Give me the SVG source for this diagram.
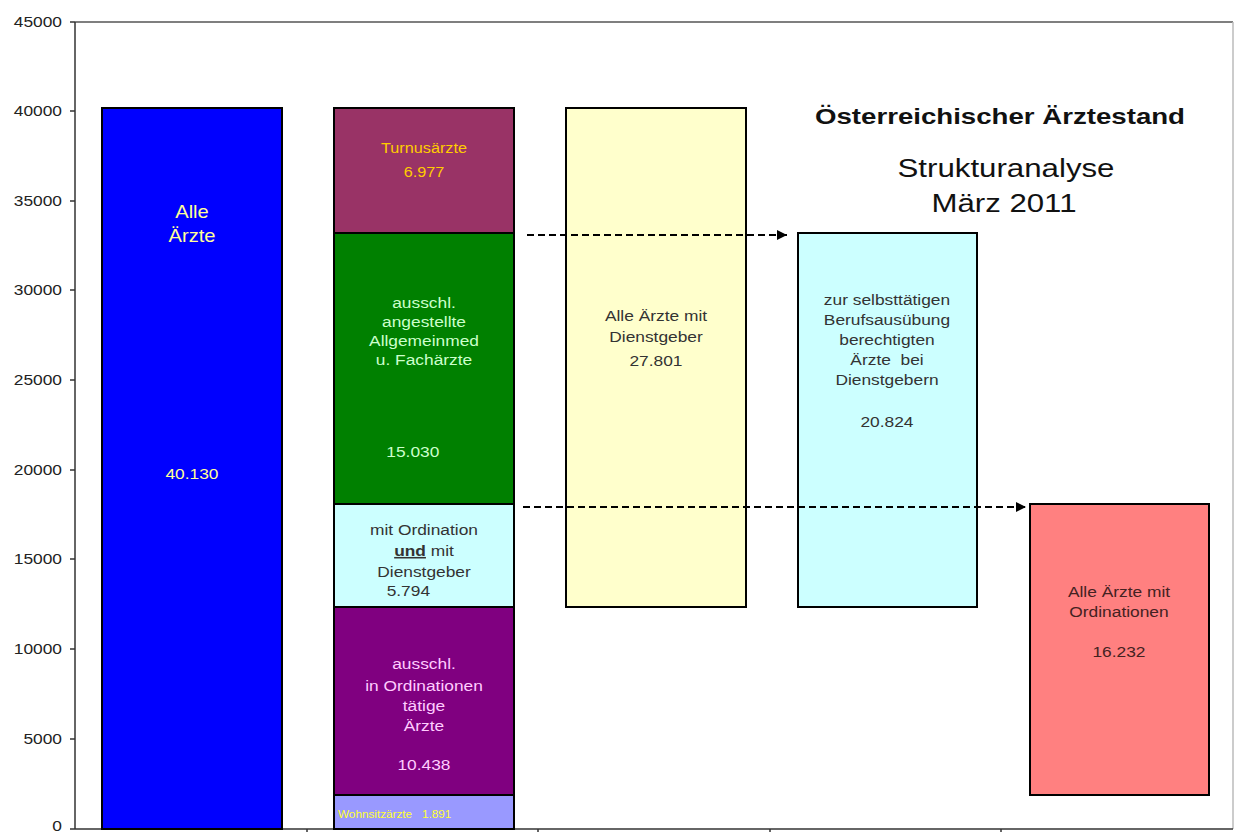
<svg xmlns="http://www.w3.org/2000/svg" width="1237" height="832" viewBox="0 0 1237 832">
<style>
text{font-family:"Liberation Sans",Arial,sans-serif;}
.bar{stroke:#000;stroke-width:2;}
.ax{font-size:15.5px;fill:#222;text-anchor:end;}
.lb{font-size:15.5px;text-anchor:middle;}
.dark{fill:#333;}
.conn{stroke:#000;stroke-width:2;stroke-dasharray:7,4;fill:none;}
</style>
<defs>
<marker id="ah" viewBox="0 0 10 10" refX="10" refY="5" markerWidth="5" markerHeight="5" orient="auto" markerUnits="strokeWidth">
<path d="M0,0 L10,5 L0,10 z" fill="#000"/>
</marker>
</defs>
<rect x="0" y="0" width="1237" height="832" fill="#fff"/>
<g id="frame">
<line x1="75" y1="22" x2="1233" y2="22" stroke="#555" stroke-width="1.5"/>
<line x1="1233" y1="22" x2="1233" y2="829" stroke="#bbb" stroke-width="1.5"/>
<line x1="75" y1="22" x2="75" y2="829" stroke="#333" stroke-width="1.5"/>
<line x1="75" y1="829" x2="1233" y2="829" stroke="#333" stroke-width="1.5"/>
<g stroke="#333" stroke-width="1.5">
<line x1="70" y1="22" x2="75" y2="22"/><line x1="70" y1="111" x2="75" y2="111"/><line x1="70" y1="201" x2="75" y2="201"/><line x1="70" y1="290" x2="75" y2="290"/><line x1="70" y1="380" x2="75" y2="380"/><line x1="70" y1="470" x2="75" y2="470"/><line x1="70" y1="559" x2="75" y2="559"/><line x1="70" y1="649" x2="75" y2="649"/><line x1="70" y1="739" x2="75" y2="739"/><line x1="70" y1="829" x2="75" y2="829"/>
<line x1="307" y1="829" x2="307" y2="832"/><line x1="538" y1="829" x2="538" y2="832"/><line x1="770" y1="829" x2="770" y2="832"/><line x1="1001" y1="829" x2="1001" y2="832"/>
</g>
<g transform="translate(62,0) scale(1.12,1)">
<text class="ax" x="0" y="27">45000</text>
<text class="ax" x="0" y="116">40000</text>
<text class="ax" x="0" y="206">35000</text>
<text class="ax" x="0" y="295">30000</text>
<text class="ax" x="0" y="385">25000</text>
<text class="ax" x="0" y="475">20000</text>
<text class="ax" x="0" y="564">15000</text>
<text class="ax" x="0" y="654">10000</text>
<text class="ax" x="0" y="744">5000</text>
<text class="ax" x="0" y="831">0</text>
</g>
</g>
<g id="alle-aerzte">
<rect class="bar" x="102" y="108" width="180" height="721" fill="#0000ff"/>
<g transform="translate(192,0) scale(1.12,1)" fill="#ffff99">
<text class="lb" x="0" y="218" style="font-size:18px">Alle</text>
<text class="lb" x="0" y="242" style="font-size:18px">Ärzte</text>
<text class="lb" x="0" y="479">40.130</text>
</g>
</g>
<g id="turnusaerzte">
<rect class="bar" x="334" y="108" width="180" height="125" fill="#993366"/>
<g transform="translate(424,0) scale(1.12,1)" fill="#ffcc00">
<text class="lb" x="0" y="153" style="font-size:14.5px">Turnusärzte</text>
<text class="lb" x="0" y="177" style="font-size:14.5px">6.977</text>
</g>
</g>
<g id="angestellte">
<rect class="bar" x="334" y="233" width="180" height="271" fill="#008000"/>
<g transform="translate(424,0) scale(1.12,1)" fill="#ccffcc">
<text class="lb" x="0" y="308">ausschl.</text>
<text class="lb" x="0" y="327">angestellte</text>
<text class="lb" x="0" y="346">Allgemeinmed</text>
<text class="lb" x="0" y="365">u. Fachärzte</text>
<text class="lb" x="-10" y="457">15.030</text>
</g>
</g>
<g id="ordination-und-dienstgeber">
<rect class="bar" x="334" y="504" width="180" height="103" fill="#ccffff"/>
<g transform="translate(424,0) scale(1.12,1)" class="dark">
<text class="lb" x="0" y="535">mit Ordination</text>
<text class="lb" x="0" y="556"><tspan font-weight="bold" text-decoration="underline">und</tspan> mit</text>
<text class="lb" x="0" y="577">Dienstgeber</text>
<text class="lb" x="-14" y="596">5.794</text>
</g>
</g>
<g id="ordinationen">
<rect class="bar" x="334" y="607" width="180" height="188" fill="#800080"/>
<g transform="translate(424,0) scale(1.12,1)" fill="#ffccff">
<text class="lb" x="0" y="669">ausschl.</text>
<text class="lb" x="0" y="691">in Ordinationen</text>
<text class="lb" x="0" y="711">tätige</text>
<text class="lb" x="0" y="731">Ärzte</text>
<text class="lb" x="0" y="770">10.438</text>
</g>
</g>
<g id="wohnsitzaerzte">
<rect class="bar" x="334" y="795" width="180" height="34" fill="#9999ff"/>
<g transform="translate(338,0) scale(1.12,1)" fill="#ffff33">
<text x="0" y="818" style="font-size:10.5px">Wohnsitzärzte<tspan x="75">1.891</tspan></text>
</g>
</g>
<g id="dienstgeber">
<rect class="bar" x="566" y="108" width="180" height="499" fill="#ffffcc"/>
<g transform="translate(656,0) scale(1.12,1)" class="dark">
<text class="lb" x="0" y="321">Alle Ärzte mit</text>
<text class="lb" x="0" y="342">Dienstgeber</text>
<text class="lb" x="0" y="366">27.801</text>
</g>
</g>
<g id="selbsttaetige">
<rect class="bar" x="798" y="233" width="179" height="374" fill="#ccffff"/>
<g transform="translate(887,0) scale(1.12,1)" class="dark">
<text class="lb" x="0" y="305">zur selbsttätigen</text>
<text class="lb" x="0" y="325">Berufsausübung</text>
<text class="lb" x="0" y="345">berechtigten</text>
<text class="lb" x="0" y="365" xml:space="preserve">Ärzte  bei</text>
<text class="lb" x="0" y="385">Dienstgebern</text>
<text class="lb" x="0" y="427">20.824</text>
</g>
</g>
<g id="mit-ordinationen">
<rect class="bar" x="1030" y="504" width="179" height="291" fill="#ff8080"/>
<g transform="translate(1119,0) scale(1.12,1)" fill="#442222">
<text class="lb" x="0" y="597">Alle Ärzte mit</text>
<text class="lb" x="0" y="617">Ordinationen</text>
<text class="lb" x="0" y="657">16.232</text>
</g>
</g>
<g id="title">
<text x="1000" y="124" text-anchor="middle" font-size="22" font-weight="bold" fill="#111" textLength="370" lengthAdjust="spacingAndGlyphs">Österreichischer Ärztestand</text>
<text x="1006" y="177" text-anchor="middle" font-size="26.5" fill="#111" textLength="217" lengthAdjust="spacingAndGlyphs">Strukturanalyse</text>
<text x="1004" y="212" text-anchor="middle" font-size="26.5" fill="#111" textLength="145" lengthAdjust="spacingAndGlyphs">März 2011</text>
</g>
<g id="connectors">
<line class="conn" x1="527" y1="235" x2="787" y2="235" marker-end="url(#ah)"/>
<line class="conn" x1="523" y1="507" x2="1026" y2="507" marker-end="url(#ah)"/>
</g>
</svg>
